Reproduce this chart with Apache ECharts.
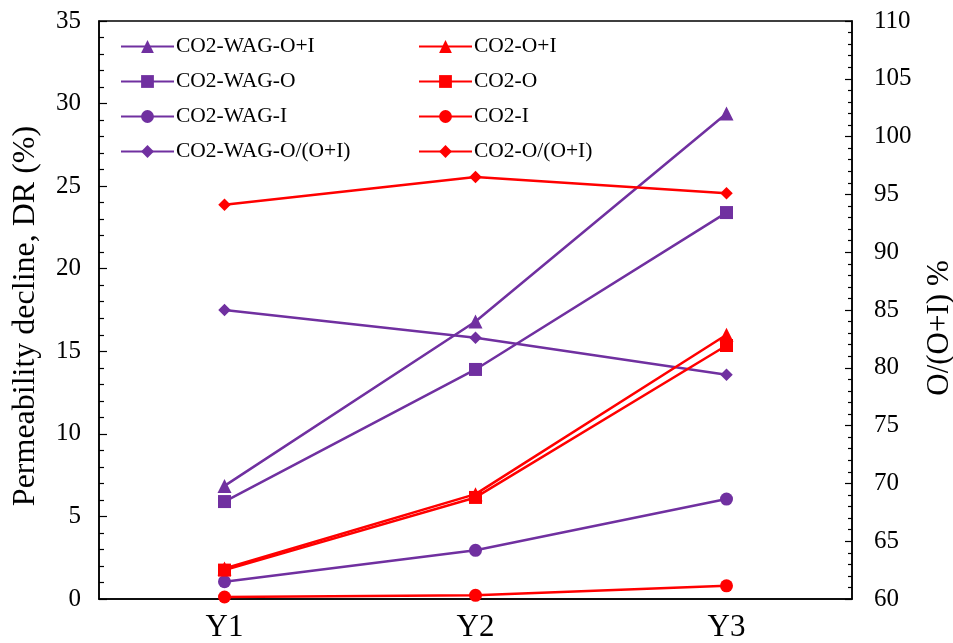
<!DOCTYPE html>
<html>
<head>
<meta charset="utf-8">
<script src="https://cdn.jsdelivr.net/npm/echarts@6/dist/echarts.min.js"></script>
<style>html,body{margin:0;padding:0;background:#fff;}#c{width:953px;height:643px;}</style>
</head>
<body>
<div id="c"></div>
<script>
const categories = ['Y1', 'Y2', 'Y3'];
const wagOI = [6.85, 16.8, 29.4];
const wagO = [5.9, 13.9, 23.4];
const wagI = [1.05, 2.95, 6.05];
const wagRatio = [85.0, 82.6, 79.4];
const co2OI = [1.85, 6.35, 16.0];
const co2O = [1.75, 6.15, 15.35];
const co2I = [0.12, 0.22, 0.8];
const co2Ratio = [94.1, 96.5, 95.1];
const leftTicks = {min: 0, max: 35, interval: 5};
const rightTicks = {min: 60, max: 110, interval: 5};

const PURPLE = '#7030A0';
const RED = '#FF0000';
const FONT = 'Liberation Serif';

function mk(name, data, color, symbol, size, yIdx) {
  return {
    name: name, type: 'line', data: data, yAxisIndex: yIdx,
    symbol: symbol, symbolSize: size,
    lineStyle: {color: color, width: 2.5},
    itemStyle: {color: color},
    emphasis: {disabled: true},
    animation: false
  };
}

const series = [
  mk('CO2-WAG-O+I', wagOI, PURPLE, 'triangle', 14, 0),
  mk('CO2-WAG-O', wagO, PURPLE, 'rect', 13, 0),
  mk('CO2-WAG-I', wagI, PURPLE, 'circle', 13, 0),
  mk('CO2-WAG-O/(O+I)', wagRatio, PURPLE, 'diamond', 12.5, 1),
  mk('CO2-O+I', co2OI, RED, 'triangle', 14, 0),
  mk('CO2-O', co2O, RED, 'rect', 13, 0),
  mk('CO2-I', co2I, RED, 'circle', 13, 0),
  mk('CO2-O/(O+I)', co2Ratio, RED, 'diamond', 12.5, 1)
];

const legendBase = {
  orient: 'vertical', top: 35, itemWidth: 53, itemHeight: 16, itemGap: 12,
  textStyle: {fontFamily: FONT, fontSize: 21.5, color: '#000', lineHeight: 23, padding: [0,0,0,-3]},
  selectedMode: false, padding: 0
};

const chart = echarts.init(document.getElementById('c'), null, {renderer: 'canvas'});
chart.setOption({
  backgroundColor: '#fff',
  animation: false,
  grid: {left: 99, right: 101, top: 21, bottom: 44, outerBoundsMode: 'none', containLabel: false,
         show: true, borderColor: '#000', borderWidth: 1.5, backgroundColor: 'transparent'},
  legend: [
    Object.assign({}, legendBase, {left: 120, data: ['CO2-WAG-O+I', 'CO2-WAG-O', 'CO2-WAG-I', 'CO2-WAG-O/(O+I)']}),
    Object.assign({}, legendBase, {left: 418, data: ['CO2-O+I', 'CO2-O', 'CO2-I', 'CO2-O/(O+I)']})
  ],
  xAxis: {
    type: 'category', data: categories, boundaryGap: true,
    axisLine: {lineStyle: {color: '#000', width: 1.5}},
    axisTick: {inside: true, alignWithLabel: true, length: 7, lineStyle: {color: '#000', width: 1.2}},
    axisLabel: {fontFamily: FONT, fontSize: 31, color: '#000', margin: 13},
    splitLine: {show: false}
  },
  yAxis: [
    {
      type: 'value', position: 'left', min: leftTicks.min, max: leftTicks.max, interval: leftTicks.interval,
      name: 'Permeability decline, DR (%)', nameLocation: 'middle', nameGap: 57,
      nameTextStyle: {fontFamily: FONT, fontSize: 32, color: '#000', padding: [0, 12, 0, 0]},
      axisLine: {show: true, lineStyle: {color: '#000', width: 1.5}},
      axisTick: {show: true, inside: true, length: 8, lineStyle: {color: '#000', width: 1.2}},
      minorTick: {show: true, splitNumber: 5, length: 5, lineStyle: {color: '#000', width: 1.2}},
      axisLabel: {fontFamily: FONT, fontSize: 25, color: '#000', margin: 18},
      splitLine: {show: false}
    },
    {
      type: 'value', position: 'right', min: rightTicks.min, max: rightTicks.max, interval: rightTicks.interval,
      name: 'O/(O+I) %', nameLocation: 'middle', nameGap: 72,
      nameTextStyle: {fontFamily: FONT, fontSize: 31, color: '#000', padding: [0, 36, 0, 0]},
      axisLine: {show: true, lineStyle: {color: '#000', width: 1.5}},
      axisTick: {show: true, inside: true, length: 7, lineStyle: {color: '#000', width: 1.2}},
      minorTick: {show: true, splitNumber: 5, length: 4, lineStyle: {color: '#000', width: 1.2}},
      axisLabel: {fontFamily: FONT, fontSize: 25, color: '#000', margin: 22},
      splitLine: {show: false}
    }
  ],
  series: series
});
</script>
</body>
</html>
